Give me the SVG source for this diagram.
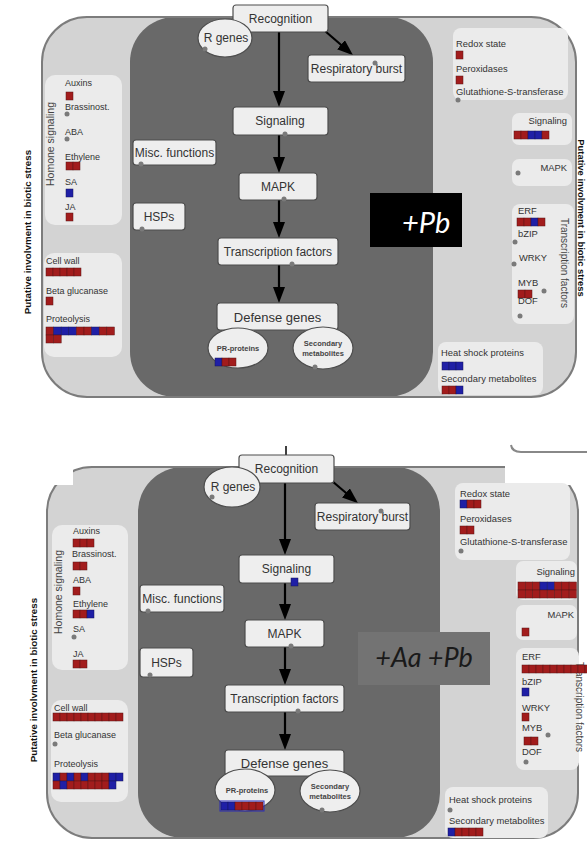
<svg xmlns="http://www.w3.org/2000/svg" width="587" height="841" viewBox="0 0 587 841">
<defs>
<marker id="ah" viewBox="0 0 16 12" markerWidth="16" markerHeight="12" refX="8" refY="6" orient="auto" markerUnits="userSpaceOnUse">
<path d="M0,0 L16,6 L0,12 z" fill="#000"/>
</marker>
</defs>
<style>
.outer{fill:#d3d3d3}
.outline{fill:none;stroke:#7c7c7c;stroke-width:2}
.dark{fill:#696969}
.sub{fill:#ebebeb}
.node{fill:#eeeeee;stroke:#4d4d4d;stroke-width:1.2}
.lbl{font-family:"Liberation Sans",Arial,sans-serif;font-size:12px;fill:#333;text-anchor:middle}
.sm{font-family:"Liberation Sans",Arial,sans-serif;font-size:9px;fill:#333}
.rs{font-family:"Liberation Sans",Arial,sans-serif;font-size:9.4px;fill:#333}
.tiny{font-family:"Liberation Sans",Arial,sans-serif;font-size:7.5px;font-weight:bold;fill:#444;text-anchor:middle}
.vt{font-family:"Liberation Sans",Arial,sans-serif;font-size:10.5px;fill:#444;text-anchor:middle}
.vb{font-family:"Liberation Sans",Arial,sans-serif;font-size:9.8px;font-weight:bold;fill:#111;text-anchor:middle}
.r{fill:#a21c1c;stroke:#5a1414;stroke-width:0.5}
.b{fill:#1f1fa6;stroke:#14145a;stroke-width:0.5}
.dot{fill:#7a7a7a}
.edge{stroke:#000;stroke-width:2.2;fill:none;marker-end:url(#ah)}
.big{font-family:Lato,"Open Sans",sans-serif;font-style:italic}
</style>

<!-- ================= TOP PANEL ================= -->
<g id="top-frame">
<rect class="outer" x="42" y="17" width="534" height="380" rx="45"/>
<rect class="dark" x="130" y="17" width="303" height="380" rx="45"/>
<rect class="outline" x="42" y="17" width="534" height="380" rx="45"/>
</g>
<text class="vb" transform="translate(31,232) rotate(-90)">Putative involvment in biotic stress</text>
<text class="vb" transform="translate(578,218) rotate(90)" style="font-size:9.4px">Putative involvment in biotic stress</text>

<g id="top-hormone">
<rect class="sub" x="45" y="75" width="77" height="150" rx="10"/>
<text class="vt" transform="translate(54,144) rotate(-90)">Homone signaling</text>
<text class="sm" x="65" y="86">Auxins</text>
<rect class="r" x="66" y="92" width="7" height="8"/>
<text class="sm" x="65" y="110">Brassinost.</text>
<circle class="dot" cx="67" cy="114" r="2.5"/>
<text class="sm" x="65" y="135">ABA</text>
<circle class="dot" cx="67" cy="139" r="2.5"/>
<text class="sm" x="65" y="160">Ethylene</text>
<rect class="r" x="66" y="162" width="7" height="8"/><rect class="r" x="73" y="162" width="7" height="8"/>
<text class="sm" x="65" y="185">SA</text>
<rect class="b" x="66" y="189" width="7" height="8"/>
<text class="sm" x="65" y="210">JA</text>
<rect class="r" x="66" y="213" width="7" height="8"/>
</g>

<g id="top-cellwall">
<rect class="sub" x="44" y="253" width="78" height="104" rx="10"/>
<text class="sm" x="46" y="264">Cell wall</text>
<rect class="r" x="46" y="268" width="7" height="8"/><rect class="r" x="53" y="268" width="7" height="8"/><rect class="r" x="60" y="268" width="7" height="8"/><rect class="r" x="67" y="268" width="7" height="8"/><rect class="r" x="74" y="268" width="7" height="8"/>
<text class="sm" x="46" y="294">Beta glucanase</text>
<rect class="r" x="46" y="297" width="7" height="8"/>
<text class="sm" x="46" y="322">Proteolysis</text>
<rect class="r" x="46" y="327" width="7.6" height="8"/><rect class="b" x="53.6" y="327" width="7.6" height="8"/><rect class="b" x="61.2" y="327" width="7.6" height="8"/><rect class="b" x="68.8" y="327" width="7.6" height="8"/><rect class="r" x="76.4" y="327" width="7.6" height="8"/><rect class="r" x="84" y="327" width="7.6" height="8"/><rect class="b" x="91.6" y="327" width="7.6" height="8"/><rect class="r" x="99.2" y="327" width="7.6" height="8"/><rect class="r" x="106.8" y="327" width="7.6" height="8"/>
<rect class="r" x="46" y="335" width="7.6" height="8"/><rect class="r" x="53.6" y="335" width="7.6" height="8"/>
</g>

<g id="top-edges">
<line class="edge" x1="279" y1="32" x2="279" y2="99"/>
<line class="edge" x1="325" y1="31" x2="347" y2="50"/>
<line class="edge" x1="279" y1="135" x2="279" y2="165"/>
<line class="edge" x1="279" y1="200" x2="279" y2="230"/>
<line class="edge" x1="279" y1="265" x2="279" y2="295"/>
</g>

<g id="top-recognition"><rect class="node" x="233" y="5" width="95" height="27" rx="3"/><text class="lbl" x="280.5" y="23">Recognition</text></g>
<g id="top-rgenes"><ellipse class="node" cx="225" cy="38" rx="27" ry="19"/><text class="lbl" x="226" y="42">R genes</text><circle class="dot" cx="205" cy="49" r="2.5"/></g>
<g id="top-resp"><rect class="node" x="308" y="55" width="97" height="27" rx="3"/><text class="lbl" x="356.5" y="73">Respiratory burst</text><circle class="dot" cx="375" cy="63" r="2.5"/></g>
<g id="top-signaling"><rect class="node" x="233" y="107" width="95" height="28" rx="3"/><text class="lbl" x="280" y="125">Signaling</text><circle class="dot" cx="285" cy="134" r="2.5"/></g>
<g id="top-mapk"><rect class="node" x="239" y="173" width="78" height="27" rx="3"/><text class="lbl" x="278" y="191">MAPK</text><circle class="dot" cx="284" cy="199" r="2.5"/></g>
<g id="top-tf"><rect class="node" x="218" y="238" width="120" height="27" rx="3"/><text class="lbl" x="278" y="256">Transcription factors</text><circle class="dot" cx="292" cy="264" r="2.5"/></g>
<g id="top-defense"><rect class="node" x="217" y="303" width="121" height="27" rx="3"/><text class="lbl" x="277.5" y="322" style="font-size:13px">Defense genes</text></g>
<g id="top-pr"><ellipse class="node" cx="238" cy="348" rx="30" ry="20"/><text class="tiny" x="238" y="351">PR-proteins</text>
<rect class="b" x="215" y="358" width="7" height="8"/><rect class="r" x="222" y="358" width="7" height="8"/><rect class="r" x="229" y="358" width="7" height="8"/></g>
<g id="top-secmet"><ellipse class="node" cx="323" cy="348" rx="30" ry="21"/><text class="tiny" x="323" y="346">Secondary</text><text class="tiny" x="323" y="356">metabolites</text><circle class="dot" cx="315" cy="367" r="2.5"/></g>
<g id="top-misc"><rect class="node" x="133" y="140" width="83" height="25" rx="3"/><text class="lbl" x="174.5" y="157">Misc. functions</text><circle class="dot" cx="141" cy="164" r="2.5"/></g>
<g id="top-hsps"><rect class="node" x="133" y="203" width="52" height="27" rx="3"/><text class="lbl" x="159" y="221">HSPs</text><circle class="dot" cx="142" cy="229" r="2.5"/></g>

<g id="top-label"><rect x="370" y="193" width="92" height="54" fill="#000"/><text class="big" x="402" y="233" fill="#fff" font-size="29">+Pb</text></g>

<g id="top-redox">
<rect class="sub" x="453" y="28" width="115" height="72" rx="8"/>
<text class="rs" x="456" y="47">Redox state</text>
<rect class="r" x="456" y="51" width="7" height="8"/>
<text class="rs" x="456" y="72">Peroxidases</text>
<rect class="r" x="456" y="76" width="7" height="8"/>
<text class="rs" x="456" y="95">Glutathione-S-transferase</text>
<circle class="dot" cx="458" cy="100" r="2.5"/>
</g>
<g id="top-rsignaling">
<rect class="sub" x="512" y="113" width="60" height="32" rx="7"/>
<text class="rs" x="567" y="124" text-anchor="end">Signaling</text>
<rect class="r" x="514" y="131" width="7" height="8"/><rect class="r" x="521" y="131" width="7" height="8"/><rect class="b" x="528" y="131" width="7" height="8"/><rect class="b" x="535" y="131" width="7" height="8"/><rect class="r" x="542" y="131" width="7" height="8"/>
</g>
<g id="top-rmapk">
<rect class="sub" x="512" y="159" width="60" height="27" rx="7"/>
<text class="rs" x="567" y="171" text-anchor="end">MAPK</text>
<circle class="dot" cx="518" cy="173" r="2.5"/>
</g>
<g id="top-rtf">
<rect class="sub" x="512" y="204" width="62" height="120" rx="8"/>
<text class="vt" transform="translate(561,263) rotate(90)" style="font-size:10px">Transcription factors</text>
<text class="rs" x="518" y="214">ERF</text>
<rect class="r" x="517" y="218" width="7" height="8"/><rect class="r" x="524" y="218" width="7" height="8"/><rect class="b" x="531" y="218" width="7" height="8"/><rect class="r" x="538" y="218" width="7" height="8"/>
<text class="rs" x="518" y="237">bZIP</text>
<circle class="dot" cx="515" cy="242" r="2.5"/>
<text class="rs" x="519" y="261">WRKY</text>
<circle class="dot" cx="514" cy="264" r="2.5"/>
<text class="rs" x="518" y="286">MYB</text>
<circle class="dot" cx="544" cy="291" r="2.5"/>
<rect class="r" x="518" y="290" width="7" height="8"/><rect class="r" x="525" y="290" width="7" height="8"/>
<text class="rs" x="518" y="304">DOF</text>
<circle class="dot" cx="520" cy="316" r="2.5"/>
</g>
<g id="top-heat">
<rect class="sub" x="438" y="342" width="105" height="53" rx="8"/>
<text class="rs" x="441" y="356">Heat shock proteins</text>
<rect class="b" x="442" y="362" width="7" height="8"/><rect class="b" x="449" y="362" width="7" height="8"/><rect class="b" x="456" y="362" width="7" height="8"/>
<text class="rs" x="441" y="382">Secondary metabolites</text>
<rect class="r" x="442" y="386" width="7" height="8"/><rect class="r" x="449" y="386" width="7" height="8"/><rect class="b" x="456" y="386" width="7" height="8"/>
</g>

<!-- ================= BOTTOM PANEL ================= -->
<g id="bottom-frame">
<rect class="outer" x="47" y="467" width="531" height="371" rx="45"/>
<rect class="dark" x="138" y="467" width="302" height="371" rx="45"/>
<rect class="outline" x="47" y="467" width="531" height="371" rx="45"/>
<rect x="0" y="440" width="73" height="45" fill="#fff"/>
<rect x="505" y="455" width="82" height="30" fill="#fff"/>
<path d="M511,445 Q512,452 521,452 L587,452" fill="none" stroke="#888" stroke-width="2"/>
</g>
<text class="vb" transform="translate(37,680) rotate(-90)">Putative involvment in biotic stress</text>

<g id="bottom-hormone">
<rect class="sub" x="52" y="525" width="76" height="145" rx="10"/>
<text class="vt" transform="translate(62,592) rotate(-90)">Homone signaling</text>
<text class="sm" x="73" y="534">Auxins</text>
<rect class="r" x="73" y="539" width="7" height="8"/><rect class="r" x="80" y="539" width="7" height="8"/><rect class="r" x="87" y="539" width="7" height="8"/>
<text class="sm" x="72" y="557">Brassinost.</text>
<rect class="r" x="73" y="562" width="7" height="8"/><rect class="r" x="80" y="562" width="7" height="8"/>
<text class="sm" x="73" y="583">ABA</text>
<rect class="r" x="73" y="587" width="7" height="8"/>
<text class="sm" x="73" y="607">Ethylene</text>
<rect class="r" x="73" y="610" width="7" height="8"/><rect class="r" x="80" y="610" width="7" height="8"/><rect class="b" x="87" y="610" width="7" height="8"/>
<text class="sm" x="73" y="632">SA</text>
<circle class="dot" cx="74" cy="637" r="2.5"/>
<text class="sm" x="73" y="657">JA</text>
<rect class="r" x="73" y="660" width="7" height="8"/><rect class="r" x="80" y="660" width="7" height="8"/>
</g>

<g id="bottom-cellwall">
<rect class="sub" x="51" y="700" width="77" height="102" rx="10"/>
<text class="sm" x="54" y="711">Cell wall</text>
<rect class="r" x="53" y="713" width="7" height="8"/><rect class="r" x="60" y="713" width="7" height="8"/><rect class="r" x="67" y="713" width="7" height="8"/><rect class="r" x="74" y="713" width="7" height="8"/><rect class="r" x="81" y="713" width="7" height="8"/><rect class="r" x="88" y="713" width="7" height="8"/><rect class="r" x="95" y="713" width="7" height="8"/><rect class="r" x="102" y="713" width="7" height="8"/><rect class="r" x="109" y="713" width="7" height="8"/><rect class="r" x="116" y="713" width="7" height="8"/>
<text class="sm" x="54" y="738">Beta glucanase</text>
<circle class="dot" cx="55" cy="744" r="2.5"/>
<text class="sm" x="54" y="767">Proteolysis</text>
<rect class="b" x="53" y="773" width="7" height="8"/><rect class="r" x="60" y="773" width="7" height="8"/><rect class="b" x="67" y="773" width="7" height="8"/><rect class="r" x="74" y="773" width="7" height="8"/><rect class="b" x="81" y="773" width="7" height="8"/><rect class="r" x="88" y="773" width="7" height="8"/><rect class="r" x="95" y="773" width="7" height="8"/><rect class="r" x="102" y="773" width="7" height="8"/><rect class="b" x="109" y="773" width="7" height="8"/><rect class="b" x="116" y="773" width="7" height="8"/>
<rect class="r" x="53" y="781" width="7" height="8"/><rect class="b" x="60" y="781" width="7" height="8"/><rect class="r" x="67" y="781" width="7" height="8"/><rect class="r" x="74" y="781" width="7" height="8"/><rect class="r" x="81" y="781" width="7" height="8"/><rect class="r" x="88" y="781" width="7" height="8"/><rect class="r" x="95" y="781" width="7" height="8"/><rect class="r" x="102" y="781" width="7" height="8"/><rect class="b" x="109" y="781" width="7" height="8"/>
</g>

<g id="bottom-edges">
<line x1="286" y1="446" x2="286" y2="455" stroke="#000" stroke-width="1.5"/>
<line class="edge" x1="285" y1="483" x2="285" y2="547"/>
<line class="edge" x1="332" y1="481" x2="352" y2="498"/>
<line class="edge" x1="285" y1="583" x2="285" y2="612"/>
<line class="edge" x1="285" y1="647" x2="285" y2="677"/>
<line class="edge" x1="285" y1="712" x2="285" y2="742"/>
</g>

<g id="bottom-recognition"><rect class="node" x="239" y="455" width="95" height="28" rx="3"/><text class="lbl" x="286.5" y="473">Recognition</text></g>
<g id="bottom-rgenes"><ellipse class="node" cx="232" cy="487" rx="28" ry="20"/><text class="lbl" x="233" y="491">R genes</text><circle class="dot" cx="212" cy="497" r="2.5"/></g>
<g id="bottom-resp"><rect class="node" x="315" y="503" width="95" height="27" rx="3"/><text class="lbl" x="362.5" y="521">Respiratory burst</text><circle class="dot" cx="381" cy="511" r="2.5"/></g>
<g id="bottom-signaling"><rect class="node" x="239" y="555" width="95" height="28" rx="3"/><text class="lbl" x="286.5" y="573">Signaling</text><rect class="b" x="291" y="578" width="7" height="8"/></g>
<g id="bottom-mapk"><rect class="node" x="245" y="620" width="79" height="27" rx="3"/><text class="lbl" x="284.5" y="638">MAPK</text><circle class="dot" cx="291" cy="646" r="2.5"/></g>
<g id="bottom-tf"><rect class="node" x="225" y="685" width="119" height="27" rx="3"/><text class="lbl" x="284.5" y="703">Transcription factors</text><circle class="dot" cx="298" cy="711" r="2.5"/></g>
<g id="bottom-defense"><rect class="node" x="225" y="750" width="119" height="26" rx="3"/><text class="lbl" x="284.5" y="768" style="font-size:13px">Defense genes</text></g>
<g id="bottom-pr"><ellipse class="node" cx="245" cy="790" rx="30" ry="21"/><text class="tiny" x="247" y="793">PR-proteins</text>
<rect class="b" x="221" y="802" width="7" height="8"/><rect class="b" x="228" y="802" width="7" height="8"/><rect class="r" x="235" y="802" width="7" height="8"/><rect class="r" x="242" y="802" width="7" height="8"/><rect class="r" x="249" y="802" width="7" height="8"/><rect class="r" x="256" y="802" width="7" height="8"/>
<rect x="220" y="801" width="44" height="10" fill="none" stroke="#2a2ab8" stroke-width="1"/></g>
<g id="bottom-secmet"><ellipse class="node" cx="330" cy="791" rx="30" ry="21"/><text class="tiny" x="330" y="789">Secondary</text><text class="tiny" x="330" y="799">metabolites</text><circle class="dot" cx="322" cy="810" r="2.5"/></g>
<g id="bottom-misc"><rect class="node" x="140" y="585" width="84" height="27" rx="3"/><text class="lbl" x="182" y="603">Misc. functions</text><circle class="dot" cx="148" cy="611" r="2.5"/></g>
<g id="bottom-hsps"><rect class="node" x="140" y="648" width="53" height="29" rx="3"/><text class="lbl" x="166.5" y="667">HSPs</text><circle class="dot" cx="150" cy="675" r="2.5"/></g>

<g id="bottom-label"><rect x="358" y="632" width="132" height="53" fill="#737373"/><text class="big" x="424" y="667" fill="#1a1a1a" font-size="27" text-anchor="middle">+Aa +Pb</text></g>

<g id="bottom-redox">
<rect class="sub" x="455" y="483" width="115" height="77" rx="8"/>
<text class="rs" x="460" y="497">Redox state</text>
<rect class="b" x="460" y="500" width="7" height="8"/><rect class="r" x="467" y="500" width="7" height="8"/><rect class="r" x="474" y="500" width="7" height="8"/>
<text class="rs" x="460" y="522">Peroxidases</text>
<rect class="r" x="460" y="526" width="7" height="8"/><rect class="r" x="467" y="526" width="7" height="8"/>
<text class="rs" x="460" y="545">Glutathione-S-transferase</text>
<circle class="dot" cx="461" cy="551" r="2.5"/>
</g>
<g id="bottom-rsignaling">
<rect class="sub" x="516" y="561" width="61" height="39" rx="7"/>
<text class="rs" x="575" y="575" text-anchor="end">Signaling</text>
<rect class="r" x="518" y="582" width="7.3" height="8"/><rect class="r" x="525.3" y="582" width="7.3" height="8"/><rect class="r" x="532.6" y="582" width="7.3" height="8"/><rect class="b" x="539.9" y="582" width="7.3" height="8"/><rect class="b" x="547.2" y="582" width="7.3" height="8"/><rect class="r" x="554.5" y="582" width="7.3" height="8"/><rect class="r" x="561.8" y="582" width="7.3" height="8"/><rect class="r" x="569.1" y="582" width="7.3" height="8"/>
<rect class="r" x="518" y="590" width="7.3" height="8"/><rect class="r" x="525.3" y="590" width="7.3" height="8"/><rect class="r" x="532.6" y="590" width="7.3" height="8"/><rect class="r" x="539.9" y="590" width="7.3" height="8"/><rect class="r" x="547.2" y="590" width="7.3" height="8"/><rect class="r" x="554.5" y="590" width="7.3" height="8"/><rect class="r" x="561.8" y="590" width="7.3" height="8"/><rect class="r" x="569.1" y="590" width="7.3" height="8"/>
</g>
<g id="bottom-rmapk">
<rect class="sub" x="516" y="605" width="61" height="35" rx="7"/>
<text class="rs" x="574" y="618" text-anchor="end">MAPK</text>
<rect class="r" x="522" y="628" width="7" height="8"/>
</g>
<g id="bottom-rtf">
<rect class="sub" x="516" y="648" width="63" height="122" rx="8"/>
<text class="vt" transform="translate(576,707) rotate(90)" style="font-size:10px">Transcription factors</text>
<text class="rs" x="522" y="660">ERF</text>
<rect class="r" x="522" y="665" width="7" height="8"/><rect class="r" x="529" y="665" width="7" height="8"/><rect class="r" x="536" y="665" width="7" height="8"/><rect class="r" x="543" y="665" width="7" height="8"/><rect class="r" x="550" y="665" width="7" height="8"/><rect class="r" x="557" y="665" width="7" height="8"/><rect class="r" x="564" y="665" width="7" height="8"/><rect class="r" x="571" y="665" width="7" height="8"/><rect class="r" x="578" y="665" width="7" height="8"/><rect class="r" x="585" y="665" width="7" height="8"/>
<text class="rs" x="522" y="685">bZIP</text>
<rect class="b" x="522" y="688" width="7" height="8"/>
<text class="rs" x="522" y="711">WRKY</text>
<rect class="r" x="522" y="713" width="7" height="8"/>
<text class="rs" x="522" y="731">MYB</text>
<circle class="dot" cx="548" cy="735" r="2.5"/>
<rect class="r" x="524" y="737" width="7" height="8"/><rect class="r" x="531" y="737" width="7" height="8"/>
<text class="rs" x="522" y="755">DOF</text>
<circle class="dot" cx="526" cy="762" r="2.5"/>
</g>
<g id="bottom-heat">
<rect class="sub" x="445" y="787" width="103" height="51" rx="8"/>
<text class="rs" x="449" y="803">Heat shock proteins</text>
<circle class="dot" cx="450" cy="810" r="2.5"/>
<text class="rs" x="449" y="824">Secondary metabolites</text>
<rect class="b" x="448" y="828" width="7" height="8"/><rect class="r" x="455" y="828" width="7" height="8"/><rect class="r" x="462" y="828" width="7" height="8"/><rect class="r" x="469" y="828" width="7" height="8"/><rect class="r" x="476" y="828" width="7" height="8"/>
</g>
</svg>
